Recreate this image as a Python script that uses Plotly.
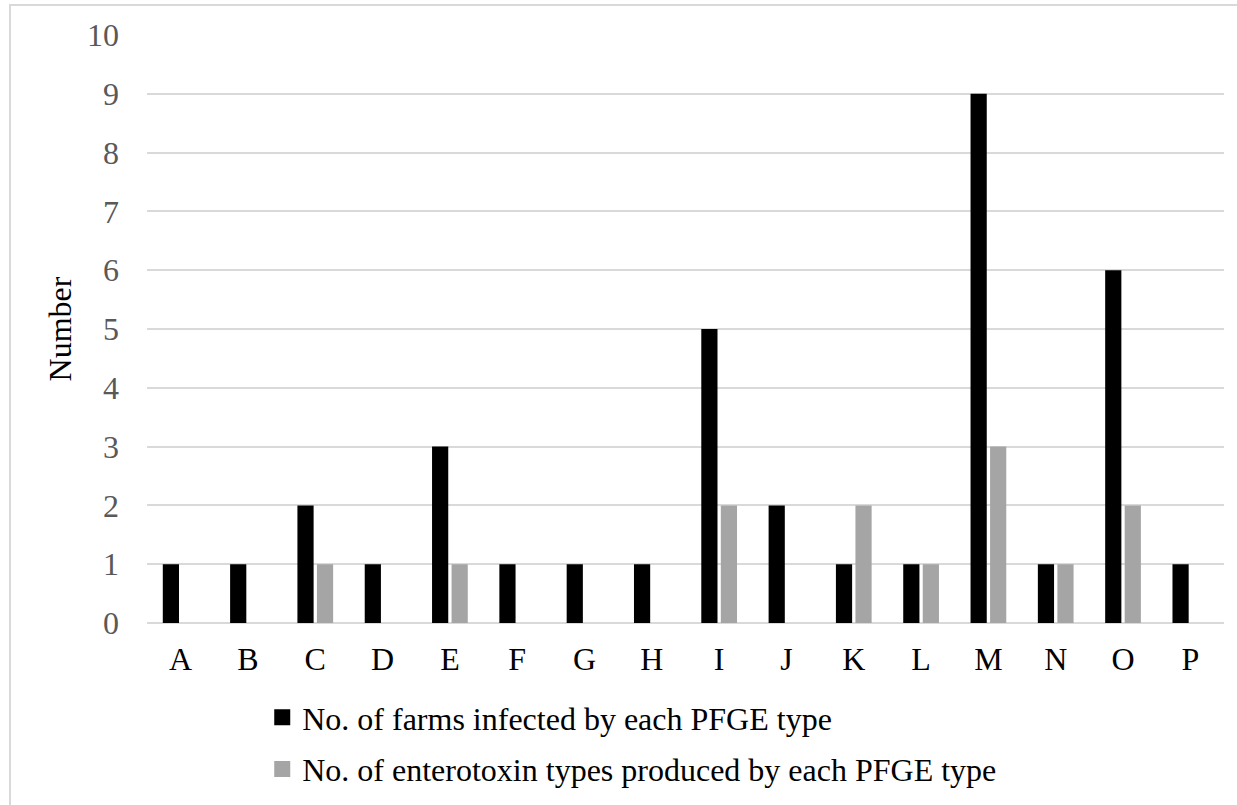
import plotly.graph_objects as go

categories = ["A", "B", "C", "D", "E", "F", "G", "H", "I", "J", "K", "L", "M", "N", "O", "P"]
farms = [1, 1, 2, 1, 3, 1, 1, 1, 5, 2, 1, 1, 9, 1, 6, 1]
enterotoxins = [0, 0, 1, 0, 1, 0, 0, 0, 2, 0, 2, 1, 3, 1, 2, 0]
series_names = ["No. of farms infected by each PFGE type",
                "No. of enterotoxin types produced by each PFGE type"]
y_ticks = list(range(0, 11))

FONT = "Times New Roman, Liberation Serif, serif"
BLACK = "#000000"
GRAY = "#a5a5a5"
FS = 32

fig = go.Figure()
fig.add_trace(go.Bar(x=categories, y=farms, marker=dict(color=BLACK, line=dict(width=0)),
                     showlegend=False, name=series_names[0]))
fig.add_trace(go.Bar(x=categories, y=enterotoxins, marker=dict(color=GRAY, line=dict(width=0)),
                     showlegend=False, name=series_names[1]))
# legend entries
fig.add_trace(go.Scatter(x=[None], y=[None], mode="markers", name=series_names[0],
                         legendgroup="a",
                         marker=dict(symbol="square", size=16, color=BLACK)))
fig.add_trace(go.Scatter(x=[None], y=[None], mode="markers", name=series_names[1],
                         legendgroup="b",
                         marker=dict(symbol="square", size=16, color=GRAY)))

fig.update_layout(
    width=1237, height=805,
    margin=dict(l=147, r=13, t=35, b=182, autoexpand=False),
    paper_bgcolor="white", plot_bgcolor="white",
    font=dict(family=FONT, size=FS, color=BLACK),
    barmode="group", bargap=0.42, bargroupgap=0.17,
    legend=dict(orientation="v", x=0.107, xanchor="left", y=-0.114, yanchor="top",
                font=dict(family=FONT, size=FS, color=BLACK),
                tracegroupgap=7, itemwidth=30, bgcolor="rgba(0,0,0,0)"),
    showlegend=True,
)
fig.update_xaxes(showgrid=False, showline=False, ticks="", tickfont=dict(size=FS, color=BLACK),
                 ticklabelstandoff=14, automargin=False)
fig.update_yaxes(range=[0, 10], tickvals=y_ticks, showgrid=True, gridcolor="#d9d9d9", gridwidth=1.5,
                 zeroline=True, zerolinecolor="#d9d9d9", zerolinewidth=1.5,
                 showline=False, ticks="", tickfont=dict(size=FS, color="#595959"),
                 ticklabelstandoff=27, automargin=False,
                 title=dict(text="Number", font=dict(size=FS, color=BLACK), standoff=5))

fig.add_shape(type="rect", xref="paper", yref="paper",
              x0=-0.1272, x1=1.5, y0=-1.0, y1=1.051,
              line=dict(color="#d9d9d9", width=2), fillcolor="rgba(0,0,0,0)", layer="below")

fig.write_html("out.html")
